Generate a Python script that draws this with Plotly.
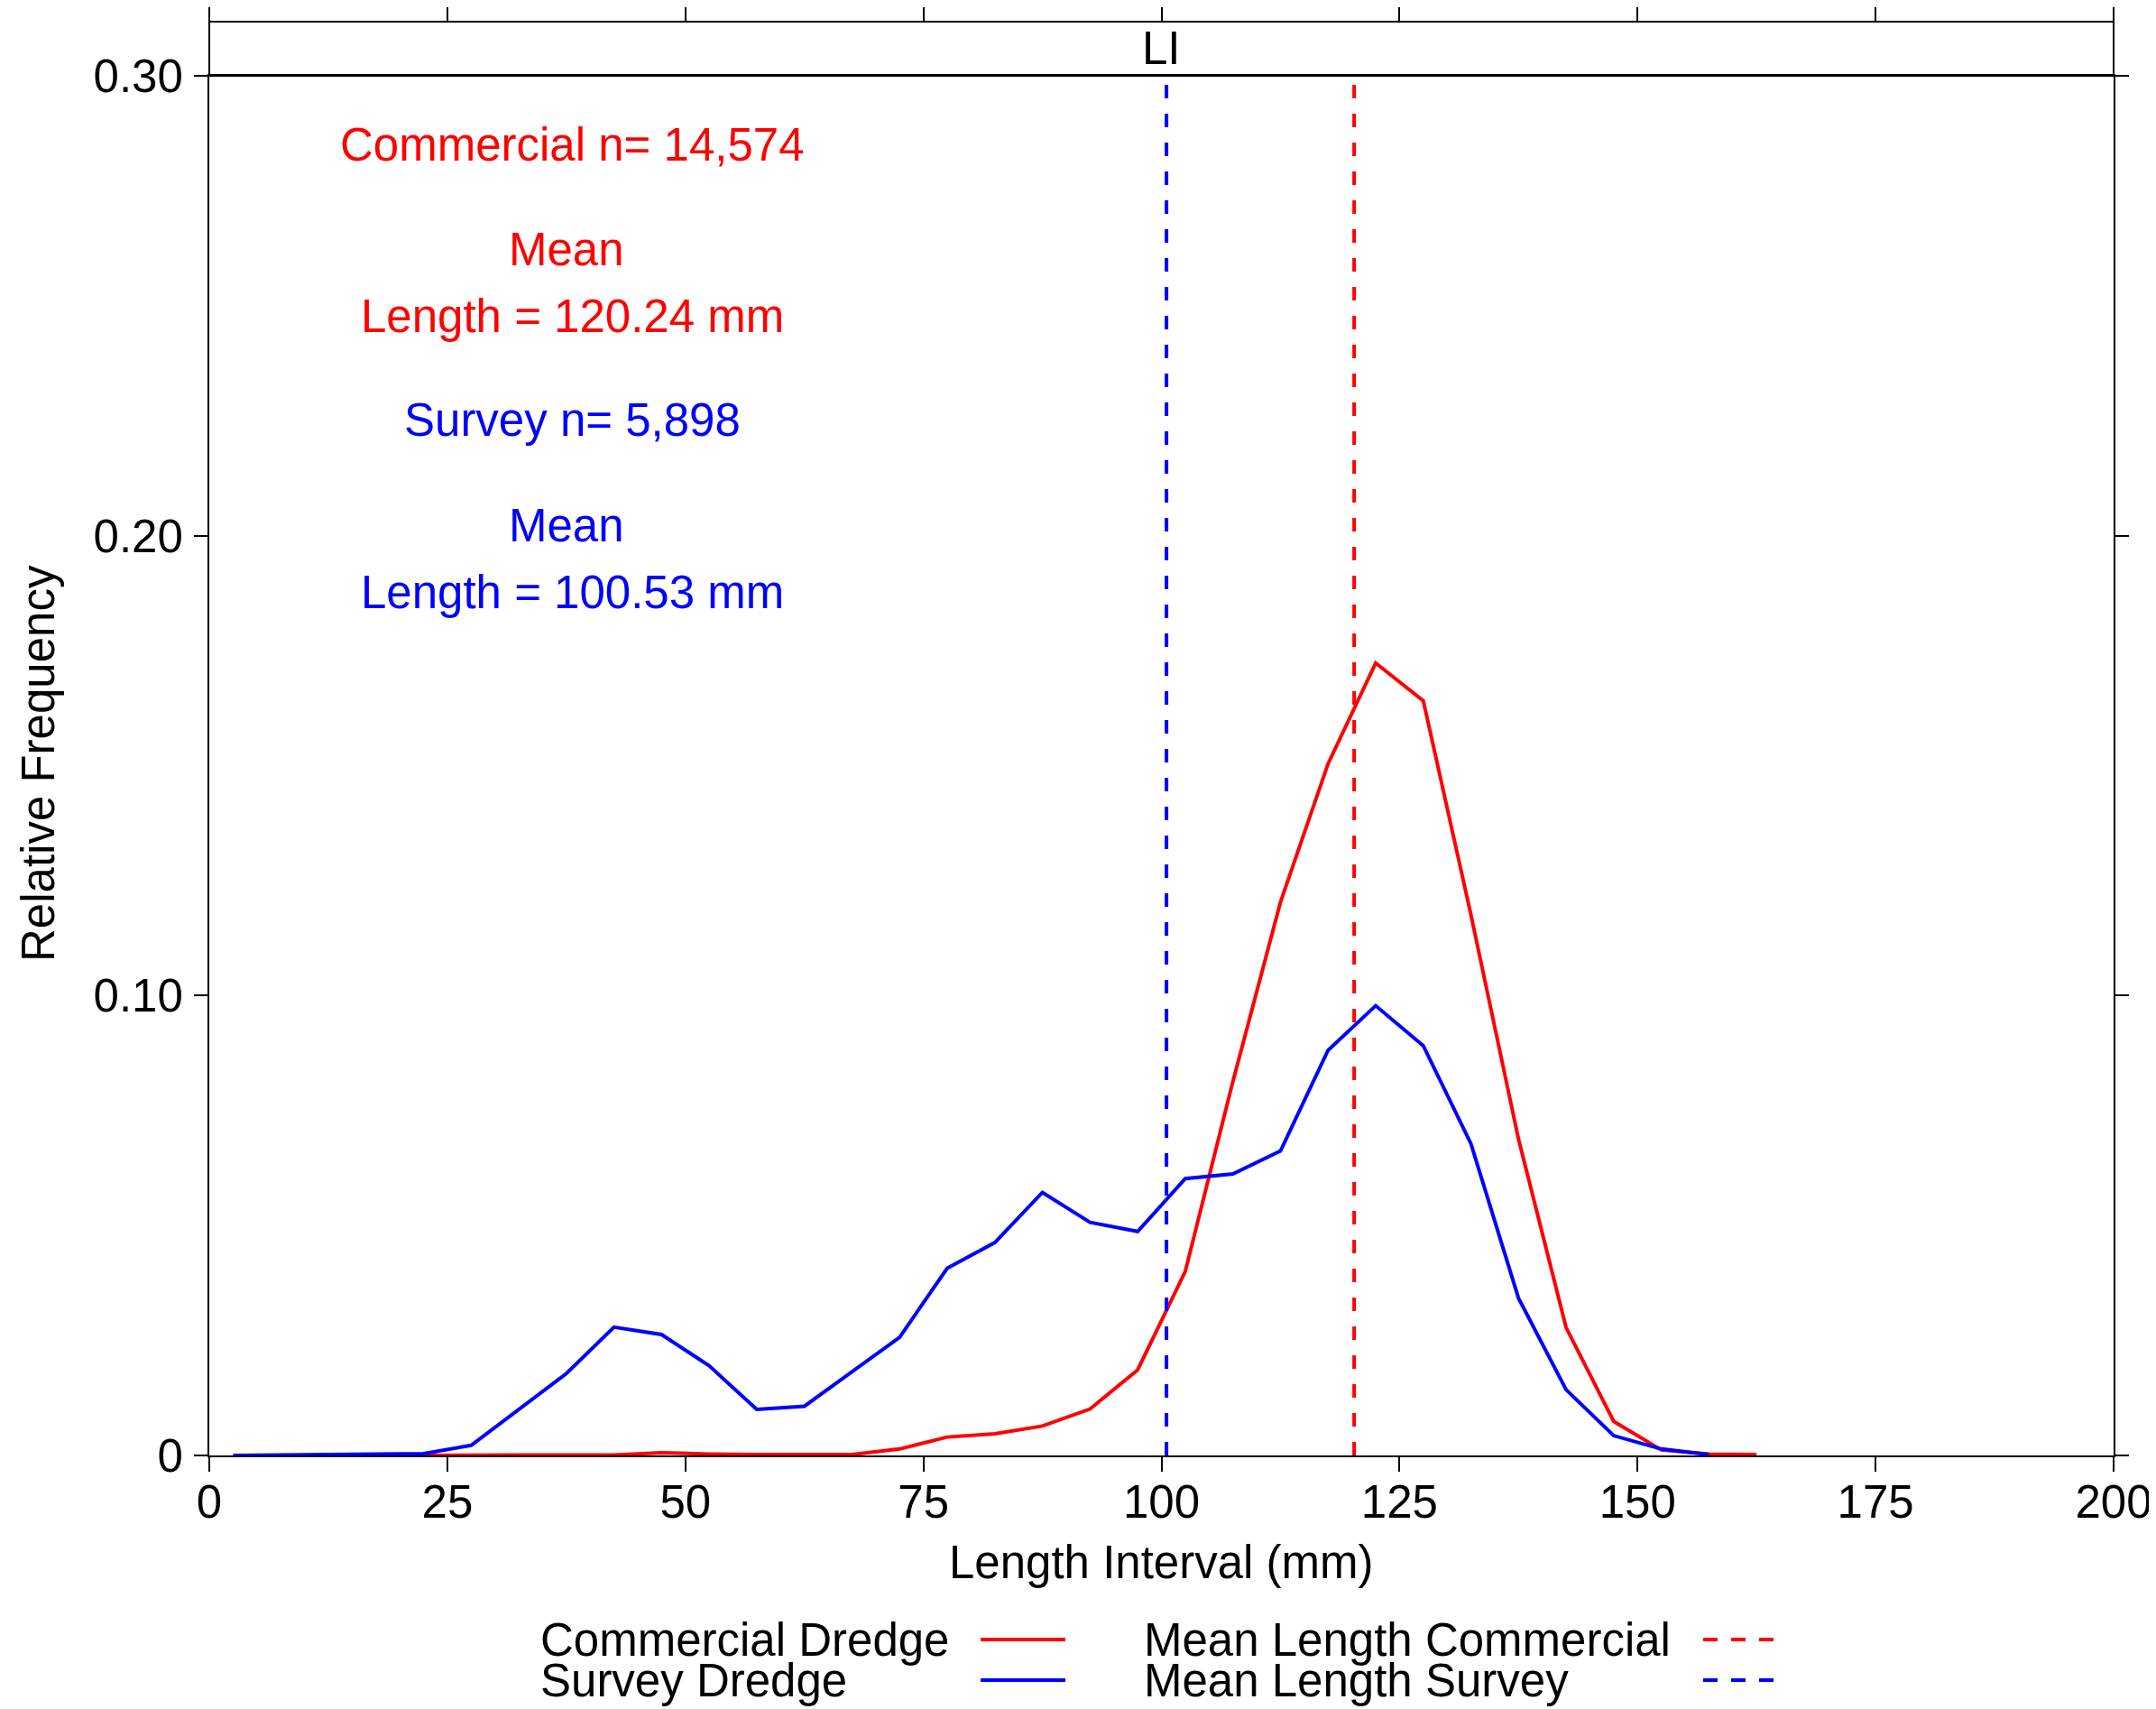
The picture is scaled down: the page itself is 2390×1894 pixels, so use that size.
import plotly.graph_objects as go

# ---------------- data ----------------
length_mid = [2.5, 7.5, 12.5, 17.5, 22.5, 27.5, 32.5, 37.5, 42.5, 47.5,
              52.5, 57.5, 62.5, 67.5, 72.5, 77.5, 82.5, 87.5, 92.5, 97.5,
              102.5, 107.5, 112.5, 117.5, 122.5, 127.5, 132.5, 137.5, 142.5, 147.5,
              152.5, 157.5, 162.5]

commercial_freq = [None, None, None, None, 0.0000, 0.0001, 0.0001, 0.0001, 0.0001, 0.0006,
                   0.0003, 0.0002, 0.0002, 0.0002, 0.0014, 0.0040, 0.0047, 0.0064, 0.0101, 0.0186,
                   0.0400, 0.0813, 0.1203, 0.1504, 0.1723, 0.1641, 0.1176, 0.0688, 0.0278, 0.0074,
                   0.0012, 0.0003, 0.0002]

survey_freq = [0.0000, 0.0001, 0.0001, 0.0002, 0.0004, 0.0022, 0.0100, 0.0178, 0.0279, 0.0263,
               0.0195, 0.0100, 0.0107, 0.0182, 0.0257, 0.0407, 0.0463, 0.0572, 0.0507, 0.0487,
               0.0602, 0.0612, 0.0662, 0.0881, 0.0978, 0.0891, 0.0678, 0.0342, 0.0143, 0.0043,
               0.0014, 0.0002, None]

commercial_mean = 120.24
survey_mean = 100.53
commercial_n = "14,574"
survey_n = "5,898"

x_ticks = [0, 25, 50, 75, 100, 125, 150, 175, 200]
y_ticks = [0, 0.10, 0.20, 0.30]
y_ticktext = ["0", "0.10", "0.20", "0.30"]
panel_label = "LI"

series_names = ["Commercial Dredge", "Survey Dredge"]
mean_names = ["Mean Length Commercial", "Mean Length Survey"]

# ---------------- styling ----------------
FONT = "Liberation Sans, Arial, Helvetica, sans-serif"
FS = 51
RED = "#FF0000"
BLUE = "#0000FF"
LW = 4
OFF = 8  # page body margin of the html page
W, H = 2390 - OFF, 1894 - OFF
# target positions (page pixels) -> figure pixels
PLOT_L, PLOT_R, PLOT_B, STRIP_T, PANEL_T = 232, 2343, 1613, 24, 84
ML = PLOT_L - OFF
MR = W - (PLOT_R - OFF)
MT = STRIP_T - OFF
MB = H - (PLOT_B - OFF)
PW, PH = W - ML - MR, H - MT - MB
yd = (PLOT_B - PANEL_T) / PH  # fraction of plot area used by panel


def px(xpage):
    return (xpage - OFF - ML) / PW


def py(ypage):
    return (MT + PH - (ypage - OFF)) / PH


fig = go.Figure()

fig.add_trace(go.Scatter(x=length_mid, y=commercial_freq, mode="lines",
                         line=dict(color=RED, width=LW), name=series_names[0],
                         showlegend=False, connectgaps=False))
fig.add_trace(go.Scatter(x=length_mid, y=survey_freq, mode="lines",
                         line=dict(color=BLUE, width=LW), name=series_names[1],
                         showlegend=False, connectgaps=False))
# empty trace to activate top (strip) axis
fig.add_trace(go.Scatter(x=[], y=[], xaxis="x2", yaxis="y", showlegend=False,
                         hoverinfo="skip"))

shapes = []
# mean lines
for m, c in [(survey_mean, BLUE), (commercial_mean, RED)]:
    shapes.append(dict(type="line", xref="x", yref="y", x0=m, x1=m, y0=0, y1=0.30,
                       line=dict(color=c, width=LW, dash="15px,17px"), layer="above"))
# strip box
shapes.append(dict(type="rect", xref="paper", yref="paper", x0=0, x1=1, y0=yd, y1=1,
                   line=dict(color="black", width=2), fillcolor="rgba(0,0,0,0)", layer="above"))

annotations = []
# strip label
annotations.append(dict(text=panel_label, xref="paper", yref="paper", x=0.5,
                        y=(yd + 1) / 2, showarrow=False, xanchor="center", yanchor="middle",
                        font=dict(family=FONT, size=FS, color="black")))

# in-panel text
txt = [
    (f"Commercial n= {commercial_n}", 634, 160, RED),
    ("Mean", 628, 276, RED),
    (f"Length = {commercial_mean:.2f} mm", 634, 350, RED),
    (f"Survey n= {survey_n}", 634, 465, BLUE),
    ("Mean", 628, 582, BLUE),
    (f"Length = {survey_mean:.2f} mm", 634, 656, BLUE),
]
for t, xp, yp, c in txt:
    annotations.append(dict(text=t, xref="paper", yref="paper", x=px(xp), y=py(yp),
                            showarrow=False, xanchor="center", yanchor="middle",
                            font=dict(family=FONT, size=FS, color=c)))

# axis titles
annotations.append(dict(text="Length Interval (mm)", xref="paper", yref="paper",
                        x=px(1287), y=py(1731), showarrow=False, xanchor="center",
                        yanchor="middle", font=dict(family=FONT, size=FS, color="black")))
annotations.append(dict(text="Relative Frequency", xref="paper", yref="paper",
                        x=px(43), y=py(846), showarrow=False, xanchor="center",
                        yanchor="middle", textangle=-90,
                        font=dict(family=FONT, size=FS, color="black")))

# legend (text then key)
leg_rows = [1817, 1862]
for i in range(2):
    annotations.append(dict(text=series_names[i], xref="paper", yref="paper",
                            x=px(597), y=py(leg_rows[i]), showarrow=False,
                            xanchor="left", yanchor="middle",
                            font=dict(family=FONT, size=FS, color="black")))
    annotations.append(dict(text=mean_names[i], xref="paper", yref="paper",
                            x=px(1266), y=py(leg_rows[i]), showarrow=False,
                            xanchor="left", yanchor="middle",
                            font=dict(family=FONT, size=FS, color="black")))
    col = RED if i == 0 else BLUE
    shapes.append(dict(type="line", xref="paper", yref="paper", x0=px(1087), x1=px(1181),
                       y0=py(leg_rows[i]), y1=py(leg_rows[i]),
                       line=dict(color=col, width=4)))
    shapes.append(dict(type="line", xref="paper", yref="paper", x0=px(1888), x1=px(1968),
                       y0=py(leg_rows[i]), y1=py(leg_rows[i]),
                       line=dict(color=col, width=4, dash="16px,15px")))

axis_common = dict(showgrid=False, zeroline=False, showline=True, linecolor="black",
                   linewidth=2, ticks="outside", tickcolor="black", tickwidth=2,
                   automargin=False,
                   tickfont=dict(family=FONT, size=FS, color="black"))

fig.update_layout(
    width=W, height=H,
    margin=dict(l=ML, r=MR, t=MT, b=MB, pad=0, autoexpand=False),
    paper_bgcolor="white", plot_bgcolor="white",
    showlegend=False,
    font=dict(family=FONT, size=FS, color="black"),
    xaxis=dict(range=[0, 200], domain=[0, 1], anchor="y", tickvals=x_ticks,
               ticklen=16, mirror=True, ticklabelstandoff=-10, **axis_common),
    xaxis2=dict(range=[0, 200], overlaying="x", side="top", anchor="free", position=1,
                tickvals=x_ticks, ticklen=16, showticklabels=False, automargin=False,
                showgrid=False, zeroline=False, showline=False, ticks="outside",
                tickcolor="black", tickwidth=2),
    yaxis=dict(range=[0, 0.30], domain=[0, yd], anchor="x", tickvals=y_ticks,
               ticktext=y_ticktext, ticklen=15, mirror="ticks", ticklabelstandoff=2,
               **axis_common),
    shapes=shapes,
    annotations=annotations,
)

fig.write_html("out.html")
